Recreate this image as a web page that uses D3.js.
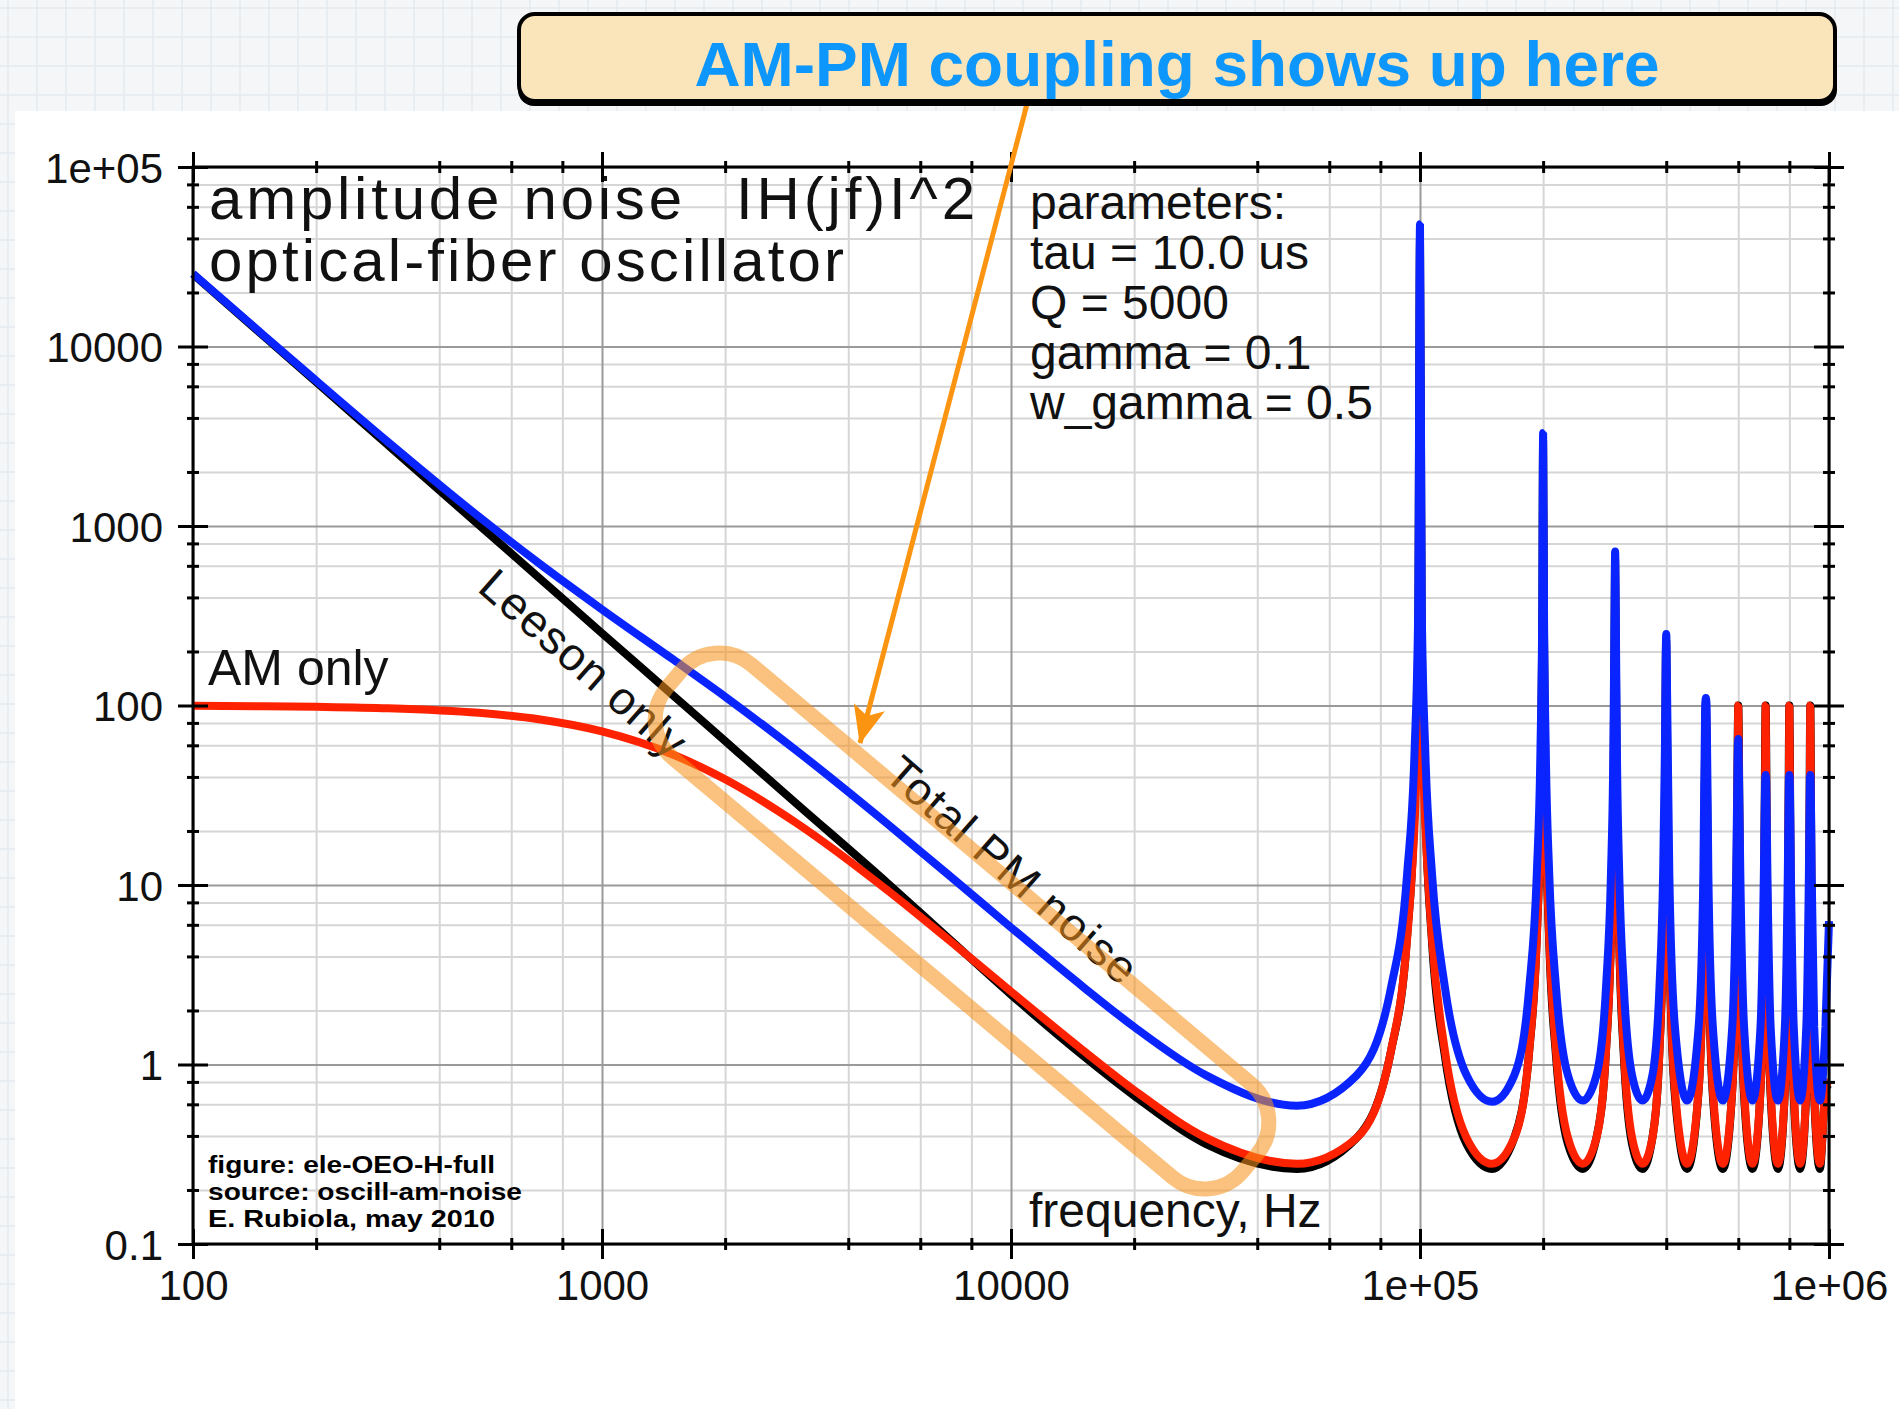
<!DOCTYPE html>
<html>
<head>
<meta charset="utf-8">
<script src="https://cdn.jsdelivr.net/npm/d3@7"></script>
<style>
	body { margin: 0; background: #f4f6f8; }
	svg { display: block; }
	text { font-family: 'Liberation Sans', Arial, Helvetica, sans-serif; }
</style>
</head>
<body>
<svg id="svg_elem"></svg>
<script>
//define constants
const svgWidth = 1899;
const svgHeight = 1409;
const plotLeft = 193;
const plotRight = 1829;
const plotTop = 167;
const plotBottom = 1244;

//define data
var freq = [
	100, 150, 200, 300, 500, 700, 1000, 1500, 2000, 3000, 5000, 7000,
	10000, 15000, 20000, 30000, 50000, 70000, 85000, 93000, 97000, 99000,
	100000, 101000, 103000, 107000, 115000, 130000, 150000, 170000, 185000, 193000, 197000, 199000,
	200000, 201000, 203000, 207000, 215000, 230000, 250000, 270000, 285000, 293000, 297000, 299000,
	300000, 301000, 303000, 307000, 315000, 330000, 350000, 370000, 385000, 393000, 397000, 399000,
	400000, 402000, 407000, 420000, 450000, 480000, 493000, 498000,
	500000, 502000, 507000, 520000, 550000, 580000, 593000, 598000,
	600000, 602000, 607000, 620000, 650000, 680000, 693000, 698000,
	700000, 702000, 707000, 720000, 750000, 780000, 793000, 798000,
	800000, 802000, 807000, 820000, 850000, 880000, 893000, 898000,
	900000, 902000, 907000, 920000, 950000, 980000, 1000000
];

//black curve
var leesonOnly = [
	25330, 11260, 6333, 2814, 1013, 517, 253, 112.7, 63.4, 28.2, 10.2, 5.1,
	2.45, 1.12, 0.67, 0.36, 0.262, 0.39, 1.2, 5.2, 28, 250,
	40000, 250, 28, 4.8, 1.12, 0.36, 0.262, 0.39, 1.2, 5.2, 28, 250,
	3000, 250, 28, 4.8, 1.12, 0.36, 0.262, 0.39, 1.2, 5.2, 28, 250,
	650, 250, 28, 4.8, 1.12, 0.36, 0.262, 0.39, 1.2, 5.2, 28, 180,
	230, 63, 4.8, 0.67, 0.262, 0.72, 5.2, 63,
	100, 63, 4.8, 0.67, 0.262, 0.72, 5.2, 63,
	100, 63, 4.8, 0.67, 0.262, 0.72, 5.2, 63,
	100, 63, 4.8, 0.67, 0.262, 0.72, 5.2, 63,
	100, 63, 4.8, 0.67, 0.262, 0.72, 5.2, 63,
	100, 63, 4.8, 0.67, 0.262, 0.72, 0.78
];

//red curve
var amOnly = [
	99.6, 99.1, 98.4, 96.6, 91.0, 83.8, 71.7, 53.0, 38.8, 22.0, 9.3, 5.0,
	2.55, 1.2, 0.72, 0.39, 0.28, 0.39, 1.2, 5.0, 22, 72,
	100, 72, 22, 5.0, 1.2, 0.39, 0.28, 0.39, 1.2, 5.0, 22, 72,
	100, 72, 22, 5.0, 1.2, 0.39, 0.28, 0.39, 1.2, 5.0, 22, 72,
	100, 72, 22, 5.0, 1.2, 0.39, 0.28, 0.39, 1.2, 5.0, 22, 72,
	100, 39, 5.0, 0.72, 0.28, 0.72, 5.0, 39,
	100, 39, 5.0, 0.72, 0.28, 0.72, 5.0, 39,
	100, 39, 5.0, 0.72, 0.28, 0.72, 5.0, 39,
	100, 39, 5.0, 0.72, 0.28, 0.72, 5.0, 39,
	100, 39, 5.0, 0.72, 0.28, 0.72, 5.0, 39,
	100, 39, 5.0, 0.72, 0.28, 0.72, 0.82
];

//blue curve
var totalPM = [
	25450, 11380, 6456, 2935, 1127, 622, 343, 179, 112, 55.7, 21.8, 11.5,
	5.8, 2.71, 1.62, 0.87, 0.59, 0.87, 2.7, 11.5, 56, 343,
	48000, 343, 56, 11.5, 2.71, 0.87, 0.62, 0.87, 2.7, 11.5, 56, 343,
	3300, 343, 56, 11.5, 2.71, 0.87, 0.63, 0.87, 2.7, 11.5, 56, 343,
	720, 343, 56, 11.5, 2.71, 0.87, 0.63, 0.87, 2.7, 11.5, 56, 200,
	250, 112, 11.5, 1.62, 0.63, 1.62, 11.5, 100,
	110, 100, 11.5, 1.62, 0.63, 1.62, 11.5, 50,
	65, 45, 11.5, 1.62, 0.63, 1.62, 11.5, 38,
	41, 38, 11.5, 1.62, 0.63, 1.62, 11.5, 38,
	41, 38, 11.5, 1.62, 0.63, 1.62, 11.5, 38,
	41, 38, 11.5, 1.62, 0.63, 1.62, 6.3
];

//ticks and labels
var xMajorTicks = [100, 1000, 10000, 100000, 1000000];
var xTickLabels = ['100', '1000', '10000', '1e+05', '1e+06'];
var yMajorTicks = [0.1, 1, 10, 100, 1000, 10000, 100000];
var yTickLabels = ['0.1', '1', '10', '100', '1000', '10000', '1e+05'];
var minorSteps = [2, 4, 6, 8];

//texts
var titleLines = ['amplitude noise', 'IH(jf)I^2', 'optical-fiber oscillator'];
var paramLines = ['parameters:', 'tau = 10.0 us', 'Q = 5000', 'gamma = 0.1', 'w_gamma = 0.5'];
var footLines = ['figure:  ele-OEO-H-full', 'source: oscill-am-noise', 'E. Rubiola, may 2010'];
var calloutText = 'AM-PM coupling shows up here';

//configure svg window
var svgSelection = d3.select('#svg_elem')
	.attr('width', svgWidth)
	.attr('height', svgHeight);

//page background with faint slide grid
svgSelection.append('rect')
	.attr('width', svgWidth)
	.attr('height', svgHeight)
	.attr('fill', '#f4f6f8');
var bgGrid = svgSelection.append('g')
	.attr('stroke', '#e4eaf0')
	.attr('stroke-width', 1.5);
d3.range(8, svgWidth, 29).forEach(x => {
	bgGrid.append('line').attr('x1', x).attr('x2', x).attr('y1', 0).attr('y2', svgHeight);
});
d3.range(8, svgHeight, 29).forEach(y => {
	bgGrid.append('line').attr('x1', 0).attr('x2', svgWidth).attr('y1', y).attr('y2', y);
});

//white panel behind the plot
svgSelection.append('rect')
	.attr('x', 15)
	.attr('y', 111)
	.attr('width', svgWidth - 15)
	.attr('height', svgHeight - 111)
	.attr('fill', '#ffffff');

//define scales
var xScale = d3.scaleLog()
	.domain([100, 1000000])
	.range([plotLeft, plotRight]);
var yScale = d3.scaleLog()
	.domain([0.1, 100000])
	.range([plotBottom, plotTop]);

//minor tick values at 2,4,6,8 of each decade
var xMinorTicks = [];
xMajorTicks.slice(0, -1).forEach(d => minorSteps.forEach(m => xMinorTicks.push(d * m)));
var yMinorTicks = [];
yMajorTicks.slice(0, -1).forEach(d => minorSteps.forEach(m => yMinorTicks.push(d * m)));

//grid lines
function gridX(values, color) {
	var g = svgSelection.append('g')
		.attr('transform', `translate(0, ${plotBottom})`)
		.call(d3.axisBottom(xScale).tickValues(values).tickSize(-(plotBottom - plotTop)).tickFormat(''));
	g.select('.domain').remove();
	g.selectAll('line').attr('stroke', color).attr('stroke-width', 2);
}
function gridY(values, color) {
	var g = svgSelection.append('g')
		.attr('transform', `translate(${plotLeft}, 0)`)
		.call(d3.axisLeft(yScale).tickValues(values).tickSize(-(plotRight - plotLeft)).tickFormat(''));
	g.select('.domain').remove();
	g.selectAll('line').attr('stroke', color).attr('stroke-width', 2);
}
gridX(xMinorTicks, '#d6d6d6');
gridY(yMinorTicks, '#d6d6d6');
gridX(xMajorTicks, '#9a9a9a');
gridY(yMajorTicks, '#9a9a9a');

//curves
function linePath(values) {
	return d3.line()
		.x((d, i) => xScale(freq[i]))
		.y(d => yScale(d))
		.curve(d3.curveMonotoneX)(values);
}
var curves = [
	{values: leesonOnly, color: '#000000'},
	{values: amOnly, color: '#ff2200'},
	{values: totalPM, color: '#0a24ff'}
];
svgSelection.append('g')
	.selectAll('path')
	.data(curves)
	.enter()
	.append('path')
		.attr('d', d => linePath(d.values))
		.attr('fill', 'none')
		.attr('stroke', d => d.color)
		.attr('stroke-width', 8)
		.attr('stroke-linejoin', 'bevel');

//plot texts
var textColor = '#111111';
svgSelection.append('text')
	.text(titleLines[0])
	.attr('x', 209).attr('y', 219)
	.attr('font-size', 60).attr('fill', textColor)
	.attr('textLength', 473).attr('lengthAdjust', 'spacing');
svgSelection.append('text')
	.text(titleLines[1])
	.attr('x', 736).attr('y', 219)
	.attr('font-size', 60).attr('fill', textColor)
	.attr('textLength', 239).attr('lengthAdjust', 'spacing');
svgSelection.append('text')
	.text(titleLines[2])
	.attr('x', 209).attr('y', 281)
	.attr('font-size', 60).attr('fill', textColor)
	.attr('textLength', 635).attr('lengthAdjust', 'spacing');

svgSelection.append('g')
	.selectAll('text')
	.data(paramLines)
	.enter()
	.append('text')
		.text(d => d)
		.attr('x', 1030)
		.attr('y', (d, i) => 219 + i * 50)
		.attr('font-size', 48)
		.attr('fill', textColor);

svgSelection.append('text')
	.text('AM only')
	.attr('x', 208).attr('y', 685)
	.attr('font-size', 50).attr('fill', textColor);

svgSelection.append('text')
	.text('frequency, Hz')
	.attr('x', 1029).attr('y', 1227)
	.attr('font-size', 48).attr('fill', textColor);

svgSelection.append('text')
	.text('Leeson only')
	.attr('transform', 'translate(476, 590) rotate(41.3)')
	.attr('font-size', 46).attr('fill', textColor)
	.attr('textLength', 258).attr('lengthAdjust', 'spacing');

svgSelection.append('text')
	.text('Total PM noise')
	.attr('transform', 'translate(882, 777) rotate(41.3)')
	.attr('font-size', 46).attr('fill', textColor)
	.attr('textLength', 318).attr('lengthAdjust', 'spacing');

svgSelection.append('g')
	.selectAll('text')
	.data(footLines)
	.enter()
	.append('text')
		.text(d => d)
		.attr('x', 208)
		.attr('y', (d, i) => 1173 + i * 27)
		.attr('font-family', "'DejaVu Sans Mono', monospace")
		.attr('font-weight', 'bold')
		.attr('font-size', 23)
		.attr('fill', '#000000')
		.attr('textLength', (d, i) => [287, 314, 287][i])
		.attr('lengthAdjust', 'spacingAndGlyphs');

//axes with ticks on all four sides
function ticks(axis, transform, values, size, labels, horizontal) {
	var g = svgSelection.append('g')
		.attr('transform', transform)
		.call(axis.tickValues(values).tickSize(size).tickSizeOuter(0).tickPadding(15)
			.tickFormat(labels ? (d, i) => labels[i] : ''));
	g.select('.domain').remove();
	g.attr('font-family', null).attr('font-size', 42).attr('color', textColor);
	g.selectAll('.tick line')
		.attr('stroke', '#000000')
		.attr('stroke-width', 3)
		.attr(horizontal ? 'y1' : 'x1', -size)
		.attr(horizontal ? 'y2' : 'x2', size);
	return g;
}
var xAxisBottom = ticks(d3.axisBottom(xScale), `translate(0, ${plotBottom})`, xMajorTicks, 15, xTickLabels, true);
xAxisBottom.selectAll('text').attr('y', 56).attr('dy', 0);
ticks(d3.axisBottom(xScale), `translate(0, ${plotBottom})`, xMinorTicks, 6, null, true);
ticks(d3.axisTop(xScale), `translate(0, ${plotTop})`, xMajorTicks, 15, null, true);
ticks(d3.axisTop(xScale), `translate(0, ${plotTop})`, xMinorTicks, 6, null, true);
var yAxisLeft = ticks(d3.axisLeft(yScale), `translate(${plotLeft}, 0)`, yMajorTicks, 15, yTickLabels, false);
yAxisLeft.selectAll('text').attr('dy', '0.36em');
ticks(d3.axisLeft(yScale), `translate(${plotLeft}, 0)`, yMinorTicks, 6, null, false);
ticks(d3.axisRight(yScale), `translate(${plotRight}, 0)`, yMajorTicks, 15, null, false);
ticks(d3.axisRight(yScale), `translate(${plotRight}, 0)`, yMinorTicks, 6, null, false);

//plot border
svgSelection.append('rect')
	.attr('x', plotLeft)
	.attr('y', plotTop)
	.attr('width', plotRight - plotLeft)
	.attr('height', plotBottom - plotTop)
	.attr('fill', 'none')
	.attr('stroke', '#000000')
	.attr('stroke-width', 3);

//highlight capsule around the coupling region
svgSelection.append('rect')
	.attr('x', -376).attr('y', -61)
	.attr('width', 752).attr('height', 122)
	.attr('rx', 50).attr('ry', 50)
	.attr('transform', 'translate(962, 921) rotate(40)')
	.attr('fill', 'none')
	.attr('stroke', '#f7941d')
	.attr('stroke-opacity', 0.57)
	.attr('stroke-width', 15);

//arrow from the callout
var defs = svgSelection.append('defs');
defs.append('marker')
	.attr('id', 'arrowHead')
	.attr('markerUnits', 'userSpaceOnUse')
	.attr('viewBox', '0 0 38 32')
	.attr('refX', 37).attr('refY', 16)
	.attr('markerWidth', 38).attr('markerHeight', 32)
	.attr('orient', 'auto')
	.append('path')
		.attr('d', 'M0,0 L38,16 L0,32 L9,16 Z')
		.attr('fill', '#fb9410');
svgSelection.append('line')
	.attr('x1', 1027).attr('y1', 104)
	.attr('x2', 860).attr('y2', 743)
	.attr('stroke', '#fb9410')
	.attr('stroke-width', 5)
	.attr('marker-end', 'url(#arrowHead)');

//callout box
svgSelection.append('rect')
	.attr('x', 518).attr('y', 17)
	.attr('width', 1319).attr('height', 89)
	.attr('rx', 16)
	.attr('fill', '#000000');
svgSelection.append('rect')
	.attr('x', 519).attr('y', 14)
	.attr('width', 1316).attr('height', 87)
	.attr('rx', 16)
	.attr('fill', '#fae4b9')
	.attr('stroke', '#000000')
	.attr('stroke-width', 4);
svgSelection.append('text')
	.text(calloutText)
	.attr('x', 1177).attr('y', 86)
	.attr('text-anchor', 'middle')
	.attr('font-size', 63)
	.attr('font-weight', 'bold')
	.attr('fill', '#0d96fb')
	.attr('textLength', 965)
	.attr('lengthAdjust', 'spacingAndGlyphs');
</script>
</body>
</html>
